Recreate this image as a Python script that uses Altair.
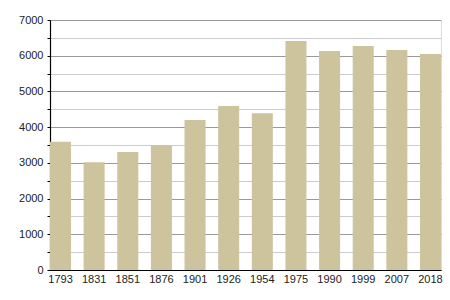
import altair as alt
import pandas as pd

years = ["1793", "1831", "1851", "1876", "1901", "1926", "1954", "1975", "1990", "1999", "2007", "2018"]
population = [3592, 3016, 3304, 3492, 4200, 4592, 4388, 6412, 6132, 6272, 6160, 6048]
y_ticks = list(range(0, 7001, 500))

df = pd.DataFrame({"year": years, "pop": population})

font = "Liberation Sans"

chart = alt.Chart(df).mark_bar(color="#cdc39c").encode(
    x=alt.X("year:N", sort=years, title=None,
            scale=alt.Scale(paddingInner=0.375, paddingOuter=0),
            axis=alt.Axis(labelAngle=0, ticks=False, domainColor="#000000", domainWidth=1.2,
                          labelFont=font, labelFontSize=11, labelColor="#222222",
                          labelPadding=3, grid=False)),
    y=alt.Y("pop:Q", title=None,
            scale=alt.Scale(domain=[0, 7000], nice=False),
            axis=alt.Axis(values=y_ticks, format="d",
                          labelExpr="datum.value % 1000 == 0 ? datum.label : ''",
                          gridColor={"condition": {"test": "datum.value % 1000 == 0", "value": "#9a9a9a"}, "value": "#cccccc"},
                          gridWidth=1,
                          domainColor="#000000", domainWidth=1.2,
                          tickColor="#000000", tickSize=3,
                          labelFont=font, labelFontSize=11, labelColor="#222222",
                          labelPadding=4)),
).properties(
    width=391, height=250,
    autosize=alt.AutoSizeParams(type="none"),
    padding={"left": 50, "top": 20, "right": 9, "bottom": 30},
).configure_view(stroke=None).configure(background="white")

chart.save("out.html", embed_options={"renderer": "svg", "actions": False})
